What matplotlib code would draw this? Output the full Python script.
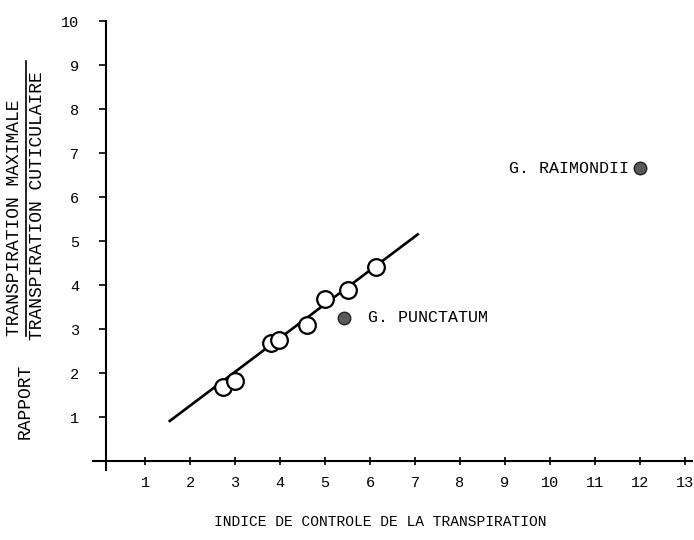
import matplotlib
matplotlib.use("Agg")
import matplotlib.pyplot as plt
from matplotlib.transforms import blended_transform_factory
from matplotlib.lines import Line2D

# open circles (other species)
x_open = [2.74, 3.00, 3.80, 3.98, 4.60, 5.00, 5.51, 6.13]
y_open = [1.69, 1.82, 2.69, 2.75, 3.08, 3.68, 3.89, 4.40]

# filled points, labelled
x_named = [5.42, 12.0]
y_named = [3.26, 6.65]
names = ["G. PUNCTATUM", "G. RAIMONDII"]

# regression line end points
line_x = [1.55, 7.06]
line_y = [0.91, 5.15]

xticks = list(range(1, 14))
yticks = list(range(1, 11))

mono = "Liberation Mono"

fig = plt.figure(figsize=(6.94, 5.40), dpi=100)
ax = fig.add_axes([0.1344, 0.13, 0.8624, 0.8311])

ax.plot(line_x, line_y, color="black", lw=1.9, zorder=2)
ax.plot(x_open, y_open, "o", ms=12, mfc="white", mec="black", mew=1.6, zorder=3)
ax.plot(x_named, y_named, "o", ms=9, mfc="#5a5a5a", mec="#222222", mew=1.0, zorder=3)

# species labels
ax.text(5.95, 3.26, names[0], family=mono, fontsize=12, va="center", ha="left")
ax.text(11.75, 6.65, names[1], family=mono, fontsize=12, va="center", ha="right")

ax.set_xlim(-0.15, 13.15)
ax.set_ylim(-0.2, 10.0)

for s in ["top", "right"]:
    ax.spines[s].set_visible(False)
ax.spines["left"].set_position(("data", 0.13))
ax.spines["bottom"].set_position(("data", 0))
ax.spines["left"].set_linewidth(1.5)
ax.spines["bottom"].set_linewidth(1.5)

ax.set_xticks(xticks)
ax.set_yticks(yticks)
ax.set_xticklabels([str(v) for v in xticks], family=mono, fontsize=11)
ax.set_yticklabels([str(v) for v in yticks], family=mono, fontsize=11)
ax.tick_params(axis="x", direction="inout", length=6, width=1.2, pad=8)
ax.tick_params(axis="y", direction="out", length=5, width=1.2, pad=14)

# x axis title
fig.text(0.548, 0.02, "INDICE DE CONTROLE DE LA TRANSPIRATION",
         family=mono, fontsize=10.5, ha="center", va="bottom")

# y axis title: RAPPORT  (maximale / cuticulaire)
tr = blended_transform_factory(fig.transFigure, ax.transData)
fig.text(25 / 694, 0.5, "RAPPORT", transform=tr, rotation=90,
         family=mono, fontsize=13, ha="center", va="bottom")
fig.text(15 / 694, 2.85, "TRANSPIRATION MAXIMALE", transform=tr, rotation=90,
         family=mono, fontsize=13, ha="center", va="bottom")
fig.text(38 / 694, 2.75, "TRANSPIRATION CUTICULAIRE", transform=tr, rotation=90,
         family=mono, fontsize=13, ha="center", va="bottom")
fig.add_artist(Line2D([26 / 694, 26 / 694], [2.85, 9.1], transform=tr,
                      color="black", lw=1.2))

fig.savefig("out.png", dpi=100)
